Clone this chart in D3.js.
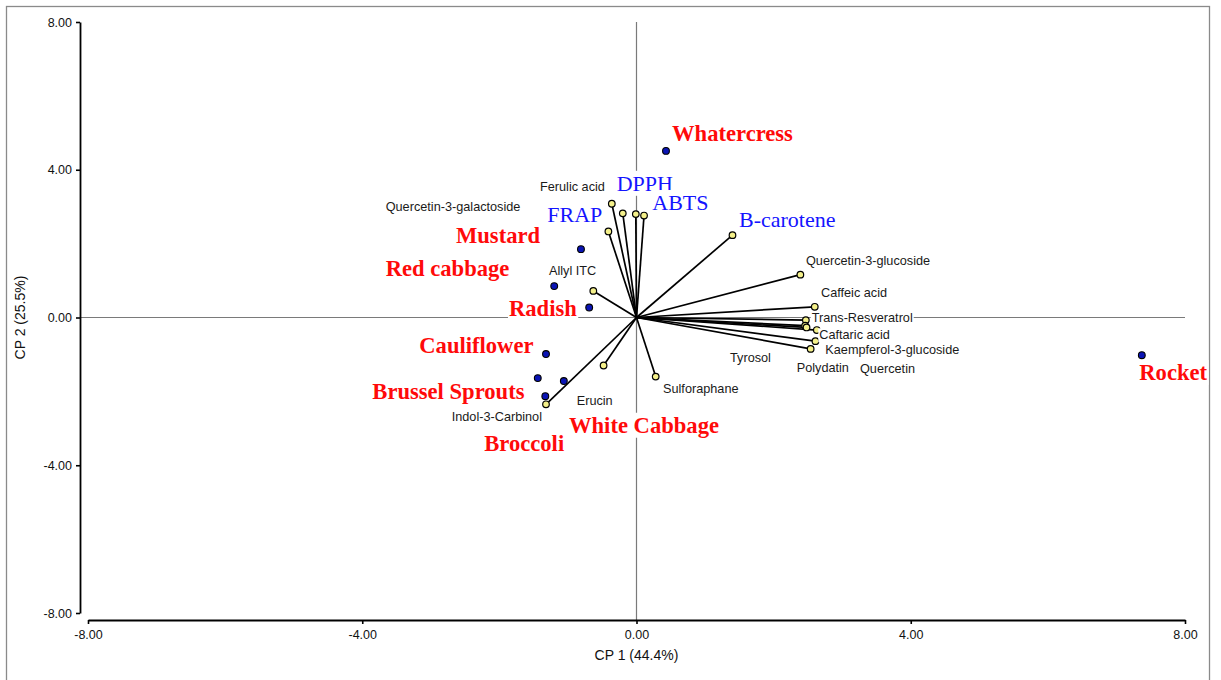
<!DOCTYPE html>
<html>
<head>
<meta charset="utf-8">
<script src="https://cdn.jsdelivr.net/npm/d3@7"></script>
<style>
  html, body { margin: 0; padding: 0; background: #fff; }
  svg { display: block; }
</style>
</head>
<body>
<svg id="chart" width="1221" height="680"></svg>
<script>
// Biplot of principal components: samples (scores) and variables (loadings)

// Samples
const sampleNames = ["Whatercress", "Mustard", "Red cabbage", "Radish", "Cauliflower",
                     "Brussel Sprouts", "White Cabbage", "Broccoli", "Rocket"];
const sampleCP1 = [0.43, -0.81, -1.20, -0.69, -1.32, -1.44, -1.06, -1.33, 7.37];
const sampleCP2 = [4.51, 1.85, 0.85, 0.27, -0.99, -1.64, -1.72, -2.13, -1.02];
// label anchors (CP1, CP2 units) for sample names
const sampleLabelCP1 = [0.518, -2.633, -3.658, -1.860, -3.168, -3.853, -0.985, -2.220, 7.333];
const sampleLabelCP2 = [4.78, 2.01, 1.11, 0.04, -0.95, -2.21, -3.12, -3.61, -1.69];

// Variables (loading vectors)
const varNames = ["Ferulic acid", "DPPH", "Quercetin-3-galactoside", "ABTS", "FRAP", "B-carotene",
                  "Allyl ITC", "Quercetin-3-glucoside", "Caffeic acid", "Trans-Resveratrol",
                  "Kaempferol-3-glucoside", "Tyrosol", "Caftaric acid", "Quercetin", "Polydatin",
                  "Erucin", "Indol-3-Carbinol", "Sulforaphane"];
const varCP1 = [-0.36, -0.20, -0.01, 0.11, -0.41, 1.40, -0.63, 2.39, 2.60, 2.47,
                2.46, 2.48, 2.63, 2.61, 2.54, -0.48, -1.32, 0.28];
const varCP2 = [3.08, 2.82, 2.80, 2.76, 2.33, 2.23, 0.72, 1.16, 0.29, -0.07,
                -0.22, -0.27, -0.34, -0.64, -0.85, -1.30, -2.35, -1.60];
// antioxidant assays are shown in a larger serif type
const assayNames = ["DPPH", "ABTS", "FRAP", "B-carotene"];
// label anchors (CP1, CP2 units) for variable names
const varLabelCP1 = [-1.407, -0.289, -3.658, 0.230, -1.301, 1.495, -1.276, 2.472, 2.691, 2.555,
                     2.754, 1.364, 2.666, 3.260, 2.337, -0.872, -2.695, 0.387];
const varLabelCP2 = [3.42, 3.43, 2.88, 2.91, 2.59, 2.46, 1.15, 1.42, 0.56, -0.13,
                     -1.00, -1.20, -0.59, -1.51, -1.47, -2.37, -2.80, -2.04];

// Axes
const axisTicks = [-8, -4, 0, 4, 8];
const xTitle = "CP 1 (44.4%)";
const yTitle = "CP 2 (25.5%)";

const svg = d3.select("#chart");
const sans = "'Liberation Sans', Arial, Helvetica, sans-serif";
const serif = "'Liberation Serif', 'Times New Roman', Times, serif";

const x = d3.scaleLinear().domain([-8, 8]).range([88, 1185]);
const y = d3.scaleLinear().domain([-8, 8]).range([613, 22]);
const yAxisX = 80, xAxisY = 620;

// outer frame
svg.append("rect")
  .attr("x", 6.5).attr("y", 6.5).attr("width", 1203).attr("height", 700)
  .attr("fill", "none").attr("stroke", "#8a8a8a").attr("stroke-width", 1.3);

// reference lines through the origin
svg.append("line")
  .attr("x1", yAxisX).attr("x2", x(8)).attr("y1", y(0)).attr("y2", y(0))
  .attr("stroke", "#7a7a7a").attr("stroke-width", 1.2);
svg.append("line")
  .attr("x1", x(0)).attr("x2", x(0)).attr("y1", y(8)).attr("y2", xAxisY)
  .attr("stroke", "#7a7a7a").attr("stroke-width", 1.2);

const fmt = d => d.toFixed(2);

const yAxis = svg.append("g")
  .attr("transform", `translate(${yAxisX},0)`)
  .call(d3.axisLeft(y).tickValues(axisTicks).tickFormat(fmt).tickSize(4).tickSizeOuter(0).tickPadding(4));
const xAxis = svg.append("g")
  .attr("transform", `translate(0,${xAxisY})`)
  .call(d3.axisBottom(x).tickValues(axisTicks).tickFormat(fmt).tickSize(4).tickSizeOuter(0).tickPadding(6));

[xAxis, yAxis].forEach(g => {
  g.select(".domain").attr("stroke", "#000").attr("stroke-width", 1.8);
  g.selectAll(".tick line").attr("stroke", "#000").attr("stroke-width", 1.6);
  g.selectAll(".tick text").attr("fill", "#111").style("font-family", sans).style("font-size", "12.5px");
});

// axis titles
svg.append("text")
  .attr("x", x(0)).attr("y", 660)
  .attr("text-anchor", "middle")
  .style("font-family", sans).style("font-size", "14px").attr("fill", "#111")
  .text(xTitle);
svg.append("text")
  .attr("transform", `translate(25,${y(0)}) rotate(-90)`)
  .attr("text-anchor", "middle")
  .style("font-family", sans).style("font-size", "14px").attr("fill", "#111")
  .text(yTitle);

// loading vectors
const vars = varNames.map((n, i) => ({ name: n, cp1: varCP1[i], cp2: varCP2[i],
  lx: varLabelCP1[i], ly: varLabelCP2[i] }));
svg.append("g").selectAll("line").data(vars).join("line")
  .attr("x1", x(0)).attr("y1", y(0))
  .attr("x2", d => x(d.cp1)).attr("y2", d => y(d.cp2))
  .attr("stroke", "#000").attr("stroke-width", 1.7);
svg.append("g").selectAll("circle").data(vars).join("circle")
  .attr("cx", d => x(d.cp1)).attr("cy", d => y(d.cp2)).attr("r", 3.3)
  .attr("fill", "#f4f08a").attr("stroke", "#000").attr("stroke-width", 1.2);

// sample scores
const samples = sampleNames.map((n, i) => ({ name: n, cp1: sampleCP1[i], cp2: sampleCP2[i],
  lx: sampleLabelCP1[i], ly: sampleLabelCP2[i] }));
svg.append("g").selectAll("circle").data(samples).join("circle")
  .attr("cx", d => x(d.cp1)).attr("cy", d => y(d.cp2)).attr("r", 3.4)
  .attr("fill", "#0a14b4").attr("stroke", "#000").attr("stroke-width", 1.1);

// labels sit on white boxes
function addLabels(data, style) {
  const g = svg.append("g");
  data.forEach(d => {
    const s = style(d);
    const lg = g.append("g");
    const bg = lg.append("rect").attr("fill", "#fff");
    const t = lg.append("text")
      .attr("x", x(d.lx)).attr("y", y(d.ly))
      .style("font-family", s.family).style("font-size", s.size)
      .style("font-weight", s.weight).attr("fill", s.color)
      .text(d.name);
    const b = t.node().getBBox();
    bg.attr("x", b.x - 1).attr("y", b.y).attr("width", b.width + 2).attr("height", b.height);
  });
}

addLabels(vars, d => assayNames.includes(d.name)
  ? { family: serif, size: "22px", weight: "normal", color: "#1414ff" }
  : { family: sans, size: "12.7px", weight: "normal", color: "#1a1a1a" });
addLabels(samples, () => ({ family: serif, size: "22.6px", weight: "bold", color: "#ff0a0a" }));
</script>
</body>
</html>
